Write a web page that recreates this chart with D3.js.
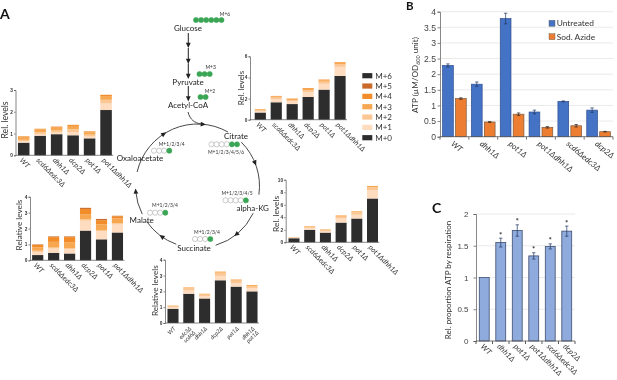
<!DOCTYPE html>
<html>
<head>
<meta charset="utf-8">
<script src="https://d3js.org/d3.v7.min.js"></script>
<style>
  body { margin: 0; background: #fff; }
  /* the reference is a soft, upscaled scan */
  svg { display: block; font-family: Lato, sans-serif; filter: blur(0.35px); }
  .axis path, .axis line { stroke: #555; stroke-width: 0.7; }
</style>
</head>
<body>
<script>
// isotopologue labels, bottom of the stack first
const isoKeys = ["M+0", "M+1", "M+2", "M+3", "M+4", "M+5", "M+6"];
const legendKeys = ["M+6", "M+5", "M+4", "M+3", "M+2", "M+1", "M+0"];
const isoColors = ["#2d2d2d", "#fddcc0", "#fbc794", "#f7a74f", "#f28c28", "#c96a2a", "#2d2d2d"];

const strains = ["WT", "scd6\u0394edc3\u0394", "dhh1\u0394", "dcp2\u0394", "pot1\u0394", "pot1\u0394dhh1\u0394"];
const strainsSuccinate = ["WT", "edc3\u0394|scd6\u0394", "dhh1\u0394", "dcp2\u0394", "pat1\u0394", "dhh1\u0394|pat1\u0394"];

// rows are M+0 to M+6
const oxaloacetate = [
  [0.58, 0.90, 0.97, 0.92, 0.78, 2.08],
  [0.07, 0.08, 0.08, 0.14, 0.08, 0.30],
  [0.06, 0.08, 0.09, 0.13, 0.09, 0.17],
  [0.10, 0.12, 0.13, 0.16, 0.11, 0.17],
  [0.06, 0.04, 0.05, 0.05, 0.04, 0.06],
  [0, 0, 0, 0, 0, 0],
  [0, 0, 0, 0, 0, 0]
];
const malate = [
  [0.33, 0.47, 0.43, 1.87, 1.32, 1.75],
  [0.20, 0.27, 0.27, 0.62, 0.52, 0.50],
  [0.07, 0.06, 0.06, 0.09, 0.06, 0.08],
  [0.22, 0.36, 0.38, 0.30, 0.36, 0.30],
  [0.15, 0.30, 0.32, 0.35, 0.26, 0.14],
  [0.03, 0.04, 0.04, 0.07, 0.08, 0.03],
  [0, 0, 0, 0, 0, 0]
];
const citrate = [
  [0.68, 1.65, 1.48, 2.15, 2.85, 4.15],
  [0.13, 0.30, 0.27, 0.45, 0.55, 0.85],
  [0.09, 0.15, 0.12, 0.20, 0.20, 0.27],
  [0.07, 0.10, 0.09, 0.13, 0.13, 0.12],
  [0.03, 0.05, 0.04, 0.07, 0.07, 0.06],
  [0, 0, 0, 0, 0, 0],
  [0, 0, 0, 0, 0, 0]
];
const alphaKG = [
  [0.65, 2.00, 1.55, 3.15, 3.80, 7.00],
  [0.10, 0.30, 0.25, 0.65, 0.60, 1.30],
  [0.06, 0.20, 0.15, 0.30, 0.40, 0.50],
  [0.04, 0.10, 0.10, 0.20, 0.15, 0.20],
  [0, 0, 0, 0, 0, 0],
  [0, 0, 0, 0, 0, 0],
  [0, 0, 0, 0, 0, 0]
];
const succinate = [
  [0.90, 1.85, 1.55, 2.70, 2.30, 2.00],
  [0.10, 0.20, 0.15, 0.28, 0.22, 0.20],
  [0.07, 0.14, 0.10, 0.20, 0.16, 0.14],
  [0.03, 0.06, 0.05, 0.07, 0.07, 0.06],
  [0, 0, 0, 0, 0, 0],
  [0, 0, 0, 0, 0, 0],
  [0, 0, 0, 0, 0, 0]
];

// panel B
const atpStrains = ["WT", "dhh1\u0394", "pot1\u0394", "pot1\u0394dhh1\u0394", "scd6\u0394edc3\u0394", "dcp2\u0394"];
const atpUntreated = [2.28, 1.68, 3.78, 0.79, 1.13, 0.85];
const atpUntreatedErr = [0.05, 0.07, 0.17, 0.06, 0.015, 0.07];
const atpAzide = [1.22, 0.47, 0.72, 0.30, 0.35, 0.16];
const atpAzideErr = [0.025, 0.015, 0.04, 0.025, 0.04, 0.01];
const atpTicks = [0, 0.5, 1, 1.5, 2, 2.5, 3, 3.5, 4];

// panel C
const respiration = [1, 1.55, 1.74, 1.34, 1.49, 1.73];
const respirationErr = [0, 0.07, 0.09, 0.05, 0.04, 0.08];
const respirationStar = [false, true, true, true, true, true];
const respirationTicks = [0, 0.5, 1, 1.5, 2];

const svg = d3.select("body").append("svg").attr("width", 617).attr("height", 380);

// ---- panel A stacked bars ----
function stackedPanel(rows, names, opt) {
  const g = svg.append("g");
  const table = names.map((n, i) => {
    const d = { name: n };
    isoKeys.forEach((k, j) => { d[k] = rows[j][i]; });
    return d;
  });
  const series = d3.stack().keys(isoKeys)(table);

  const y = d3.scaleLinear().domain([0, opt.max]).range([opt.y0, opt.yTop]);
  const x = d3.scaleBand().domain(names)
    .range([opt.c0 - opt.step / 2, opt.c0 + opt.step * 5.5]).paddingInner(0.3).paddingOuter(0.15);

  g.selectAll(".layer").data(series).join("g")
    .attr("fill", (d, i) => isoColors[i])
    .selectAll("rect").data(d => d).join("rect")
    .attr("x", d => x(d.data.name))
    .attr("width", x.bandwidth())
    .attr("y", d => y(d[1]))
    .attr("height", d => y(d[0]) - y(d[1]));

  const yAxis = g.append("g").attr("class", "axis")
    .attr("transform", `translate(${opt.axisX},0)`)
    .call(d3.axisLeft(y).tickValues(opt.ticks).tickSize(1.5).tickPadding(1).tickFormat(d3.format("d")));
  yAxis.selectAll("text").attr("font-size", 4.8).attr("font-weight", 700).attr("fill", "#333");

  g.append("line").attr("stroke", "#555").attr("stroke-width", 0.7)
    .attr("x1", opt.axisX).attr("x2", opt.c0 + opt.step * 5.5 - 1)
    .attr("y1", opt.y0).attr("y2", opt.y0);

  // slanted strain names, the succinate panel slopes the other way
  const up = opt.rot < 0;
  const labels = g.selectAll(".lab").data(names).join("text")
    .attr("transform", d => `translate(${x(d) + x.bandwidth() / 2 + (up ? 3 : -4.5)},${opt.y0 + (up ? 6 : 5.5)}) rotate(${opt.rot})`)
    .attr("text-anchor", up ? "end" : "start")
    .attr("font-size", opt.labelSize)
    .attr("font-style", "italic")
    .attr("fill", "#333");
  labels.each(function (d) {
    const parts = d.split("|");
    const t = d3.select(this);
    parts.forEach((p, i) => {
      t.append("tspan").attr("x", 0).attr("dy", i ? opt.labelSize : 0).text(p);
    });
  });

  g.append("text")
    .attr("transform", `translate(${opt.titleX},${opt.titleY}) rotate(-90)`)
    .attr("text-anchor", "middle").attr("font-size", opt.titleSize).attr("fill", "#333")
    .text(opt.title);
}

stackedPanel(oxaloacetate, strains, { axisX: 15.5, c0: 23.7, step: 16.47, y0: 155.3, yTop: 90, max: 3,
  ticks: [0, 1, 2, 3], rot: 45, labelSize: 7.2, title: "Rel. levels", titleX: 7.5, titleY: 120, titleSize: 8.6 });
stackedPanel(malate, strains, { axisX: 30, c0: 37.7, step: 15.95, y0: 260.3, yTop: 196.7, max: 4,
  ticks: [0, 1, 2, 3, 4], rot: 45, labelSize: 7.2, title: "Relative levels", titleX: 21.5, titleY: 225, titleSize: 8.2 });
stackedPanel(citrate, strains, { axisX: 250, c0: 260.3, step: 15.95, y0: 119.7, yTop: 56.3, max: 6,
  ticks: [0, 2, 4, 6], rot: 45, labelSize: 7, title: "Rel. levels", titleX: 244, titleY: 88, titleSize: 8 });
stackedPanel(alphaKG, strains, { axisX: 285.7, c0: 294, step: 15.7, y0: 242.3, yTop: 179.7, max: 10,
  ticks: [0, 2, 4, 6, 8, 10], rot: 45, labelSize: 7.2, title: "Rel. levels", titleX: 278.5, titleY: 214, titleSize: 8.4 });
stackedPanel(succinate, strainsSuccinate, { axisX: 165, c0: 173, step: 15.8, y0: 323, yTop: 259.7, max: 4,
  ticks: [0, 1, 2, 3, 4], rot: -45, labelSize: 5.6, title: "Relative levels", titleX: 157.5, titleY: 290.7, titleSize: 8.2 });

// legend for panel A
const legendY = d3.scalePoint().domain(legendKeys).range([75.7, 137.7]);
const legend = svg.append("g").selectAll("g").data(legendKeys).join("g")
  .attr("transform", d => `translate(362.3,${legendY(d)})`);
legend.append("rect").attr("y", -2.6).attr("width", 10).attr("height", 5.2)
  .attr("fill", d => isoColors[isoKeys.indexOf(d)]);
legend.append("text").attr("x", 13).attr("y", 2.9).attr("font-size", 8).attr("fill", "#333").text(d => d);

// ---- pathway drawing ----
const cycle = { cx: 197.5, cy: 186, r: 62 };
const arcSpans = [[-77, 29.5], [45, 98], [116, 163], [200, 235], [243, 265]];
const arcHeads = [-33, 5, 68, 141, 215, 265];
const rad = d => d * Math.PI / 180;

function head(g, px, py, angle) {
  g.append("path").attr("d", "M3,0 L-2.2,-2.4 L-2.2,2.4 Z").attr("fill", "#222")
    .attr("transform", `translate(${px},${py}) rotate(${angle})`);
}

const path = svg.append("g");
arcSpans.forEach(s => {
  const p = d3.path();
  p.arc(cycle.cx, cycle.cy, cycle.r, rad(s[0] - 90), rad(s[1] - 90));
  path.append("path").attr("d", p.toString()).attr("fill", "none").attr("stroke", "#333").attr("stroke-width", 0.9);
});
arcHeads.forEach(a => {
  head(path, cycle.cx + cycle.r * Math.sin(rad(a)), cycle.cy - cycle.r * Math.cos(rad(a)), a);
});

// feeder arrows from glucose down to acetyl-CoA
const feeders = [[33, 46], [48, 62], [63.5, 77], [86, 99.5]];
feeders.forEach(f => {
  path.append("line").attr("x1", 188.3).attr("x2", 188.3).attr("y1", f[0]).attr("y2", f[1] - 2)
    .attr("stroke", "#222").attr("stroke-width", 1);
  head(path, 188.3, f[1] - 1, 90);
});
path.append("path").attr("d", "M188,112 C190,120 195,123 201,124")
  .attr("fill", "none").attr("stroke", "#333").attr("stroke-width", 0.9);

const metabolites = [
  ["Glucose", 188, 31], ["Pyruvate", 188, 85], ["Acetyl-CoA", 188, 108], ["Citrate", 236, 139],
  ["alpha-KG", 252.7, 211], ["Succinate", 194, 251], ["Malate", 141.7, 223], ["Oxaloacetate", 140, 160.5]
];
path.selectAll(".met").data(metabolites).join("text")
  .attr("x", d => d[1]).attr("y", d => d[2])
  .attr("text-anchor", "middle").attr("font-size", 8).attr("fill", "#222")
  .text(d => d[0]);

const massLabels = [
  ["M+6", 225, 15.5], ["M+3", 210.7, 69], ["M+2", 210, 93], ["M+1/2/3/4/5/6", 226, 153.5],
  ["M+1/2/3/4/5", 237, 195], ["M+1/2/3/4", 207, 234], ["M+1/2/3/4", 165, 207], ["M+1/2/3/4", 171.7, 146]
];
path.selectAll(".mass").data(massLabels).join("text")
  .attr("x", d => d[1]).attr("y", d => d[2])
  .attr("text-anchor", "middle").attr("font-size", 5).attr("fill", "#333")
  .text(d => d[0]);

// carbon atoms: start x, y, open count, green count
const atoms = [
  [196, 20, 0, 6], [199.5, 74, 0, 3], [200.5, 97, 0, 2], [211.5, 144.3, 4, 2],
  [225.5, 200.3, 4, 1], [195, 239, 3, 1], [150, 212.7, 3, 1], [154, 150.7, 3, 1]
];
atoms.forEach(a => {
  d3.range(a[2] + a[3]).forEach(i => {
    const open = i < a[2];
    path.append("circle").attr("cx", a[0] + i * 5.1).attr("cy", a[1]).attr("r", 2.6)
      .attr("fill", open ? "#fff" : "#3aa655")
      .attr("stroke", open ? "#999" : "#3aa655").attr("stroke-width", 0.5);
  });
});

// ---- panel B ----
const bX = d3.scaleBand().domain(atpStrains).range([440, 613]);
const bSub = d3.scaleBand().domain(["u", "a"]).range([0, bX.bandwidth()]).paddingInner(0.17).paddingOuter(0.2);
const bY = d3.scaleLinear().domain([0, 4]).range([136.7, 11.7]);
const b = svg.append("g");

b.selectAll(".grid").data(atpTicks.slice(1)).join("line")
  .attr("x1", 440).attr("x2", 613).attr("y1", d => bY(d)).attr("y2", d => bY(d))
  .attr("stroke", "#e4e4e4").attr("stroke-width", 0.8);

function atpBars(values, errs, key, fill, edge, errColor) {
  b.selectAll(".bar" + key).data(values).join("rect")
    .attr("x", (d, i) => bX(atpStrains[i]) + bSub(key))
    .attr("width", bSub.bandwidth())
    .attr("y", d => bY(d)).attr("height", d => bY(0) - bY(d))
    .attr("fill", fill).attr("stroke", edge).attr("stroke-width", 0.7);
  values.forEach((v, i) => {
    const cx = bX(atpStrains[i]) + bSub(key) + bSub.bandwidth() / 2;
    const e = b.append("g").attr("stroke", errColor).attr("stroke-width", 0.7);
    e.append("line").attr("x1", cx).attr("x2", cx).attr("y1", bY(v - errs[i])).attr("y2", bY(v + errs[i]));
    e.append("line").attr("x1", cx - 1.7).attr("x2", cx + 1.7).attr("y1", bY(v + errs[i])).attr("y2", bY(v + errs[i]));
    e.append("line").attr("x1", cx - 1.7).attr("x2", cx + 1.7).attr("y1", bY(v - errs[i])).attr("y2", bY(v - errs[i]));
  });
}
atpBars(atpUntreated, atpUntreatedErr, "u", "#4472c4", "#2f4f8f", "#1f3864");
atpBars(atpAzide, atpAzideErr, "a", "#ed7d31", "#7a5a40", "#3a2a20");

const bAxis = b.append("g").attr("class", "axis").attr("transform", "translate(440,0)")
  .call(d3.axisLeft(bY).tickValues(atpTicks).tickSize(2.5).tickPadding(1.5).tickFormat(d3.format("")));
bAxis.selectAll("text").attr("font-size", 8.6).attr("fill", "#444");
b.append("g").selectAll("line").data(d3.range(7)).join("line")
  .attr("x1", d => 440 + d * bX.step()).attr("x2", d => 440 + d * bX.step())
  .attr("y1", bY(0)).attr("y2", bY(0) + 3).attr("stroke", "#555").attr("stroke-width", 0.8);
b.append("line").attr("x1", 440).attr("x2", 613).attr("y1", bY(0)).attr("y2", bY(0))
  .attr("stroke", "#555").attr("stroke-width", 0.8);

b.selectAll(".xl").data(atpStrains).join("text")
  .attr("transform", d => `translate(${bX(d) + bX.bandwidth() / 2 - 4},${bY(0) + 8}) rotate(40)`)
  .attr("font-size", 8).attr("font-style", "italic").attr("fill", "#333").text(d => d);

const bTitle = b.append("text").attr("transform", "translate(418,75) rotate(-90)")
  .attr("text-anchor", "middle").attr("font-size", 8.2).attr("fill", "#333");
bTitle.append("tspan").text("ATP (\u00b5M/OD");
bTitle.append("tspan").attr("font-size", 5.4).attr("dy", 1.5).text("600");
bTitle.append("tspan").attr("dy", -1.5).text(" unit)");

const bLegend = [["Untreated", "#4472c4", 23.3], ["Sod. Azide", "#ed7d31", 36.7]];
bLegend.forEach(l => {
  b.append("rect").attr("x", 549).attr("y", l[2] - 3).attr("width", 6).attr("height", 6)
    .attr("fill", l[1]).attr("stroke", "#555").attr("stroke-width", 0.4);
  b.append("text").attr("x", 556.7).attr("y", l[2] + 3).attr("font-size", 8.4).attr("fill", "#333").text(l[0]);
});

// ---- panel C ----
const cX = d3.scaleBand().domain(atpStrains).range([476, 575]).paddingInner(0.4).paddingOuter(0.2);
const cY = d3.scaleLinear().domain([0, 2]).range([341, 214]);
const c = svg.append("g");

c.selectAll(".grid").data(respirationTicks.slice(1)).join("line")
  .attr("x1", 476).attr("x2", 575).attr("y1", d => cY(d)).attr("y2", d => cY(d))
  .attr("stroke", "#e4e4e4").attr("stroke-width", 0.8);
c.selectAll(".bar").data(respiration).join("rect")
  .attr("x", (d, i) => cX(atpStrains[i])).attr("width", cX.bandwidth())
  .attr("y", d => cY(d)).attr("height", d => cY(0) - cY(d))
  .attr("fill", "#8faadc").attr("stroke", "#3f4f6f").attr("stroke-width", 0.8);
respiration.forEach((v, i) => {
  const cx = cX(atpStrains[i]) + cX.bandwidth() / 2;
  if (respirationErr[i] > 0) {
    const top = cY(v + respirationErr[i]), bot = cY(v - respirationErr[i]);
    const e = c.append("g").attr("stroke", "#1f3864").attr("stroke-width", 0.7);
    e.append("line").attr("x1", cx).attr("x2", cx).attr("y1", bot).attr("y2", top);
    e.append("line").attr("x1", cx - 1.7).attr("x2", cx + 1.7).attr("y1", top).attr("y2", top);
    e.append("line").attr("x1", cx - 1.7).attr("x2", cx + 1.7).attr("y1", bot).attr("y2", bot);
  }
  if (respirationStar[i]) {
    c.append("text").attr("x", cx).attr("y", cY(v + respirationErr[i]) - 0.5)
      .attr("text-anchor", "middle").attr("font-size", 8).attr("font-weight", 700).attr("fill", "#333").text("*");
  }
});

const cAxis = c.append("g").attr("class", "axis").attr("transform", "translate(476,0)")
  .call(d3.axisLeft(cY).tickValues(respirationTicks).tickSize(2.5).tickPadding(5).tickFormat(d3.format("")));
cAxis.selectAll("text").attr("font-size", 8).attr("fill", "#444");
c.append("g").selectAll("line").data(d3.range(7)).join("line")
  .attr("x1", d => 476 + d * cX.step()).attr("x2", d => 476 + d * cX.step())
  .attr("y1", cY(0)).attr("y2", cY(0) + 3).attr("stroke", "#333").attr("stroke-width", 0.8);
c.append("line").attr("x1", 476).attr("x2", 575).attr("y1", cY(0)).attr("y2", cY(0))
  .attr("stroke", "#555").attr("stroke-width", 0.8);

c.selectAll(".xl").data(atpStrains).join("text")
  .attr("transform", d => `translate(${cX(d) + cX.bandwidth() / 2 - 4},${cY(0) + 6}) rotate(45)`)
  .attr("font-size", 7.6).attr("font-style", "italic").attr("fill", "#333").text(d => d);

c.append("text").attr("transform", "translate(451,280) rotate(-90)")
  .attr("text-anchor", "middle").attr("font-size", 8).attr("fill", "#333")
  .text("Rel. proportion ATP by respiration");

// panel letters
const panelLetters = [["A", 0, 19, 14], ["B", 406, 10, 11.5], ["C", 432, 213, 14]];
svg.selectAll(".letter").data(panelLetters).join("text")
  .attr("x", d => d[1]).attr("y", d => d[2]).attr("font-size", d => d[3])
  .attr("font-weight", 700).attr("fill", "#111").text(d => d[0]);
</script>
</body>
</html>
